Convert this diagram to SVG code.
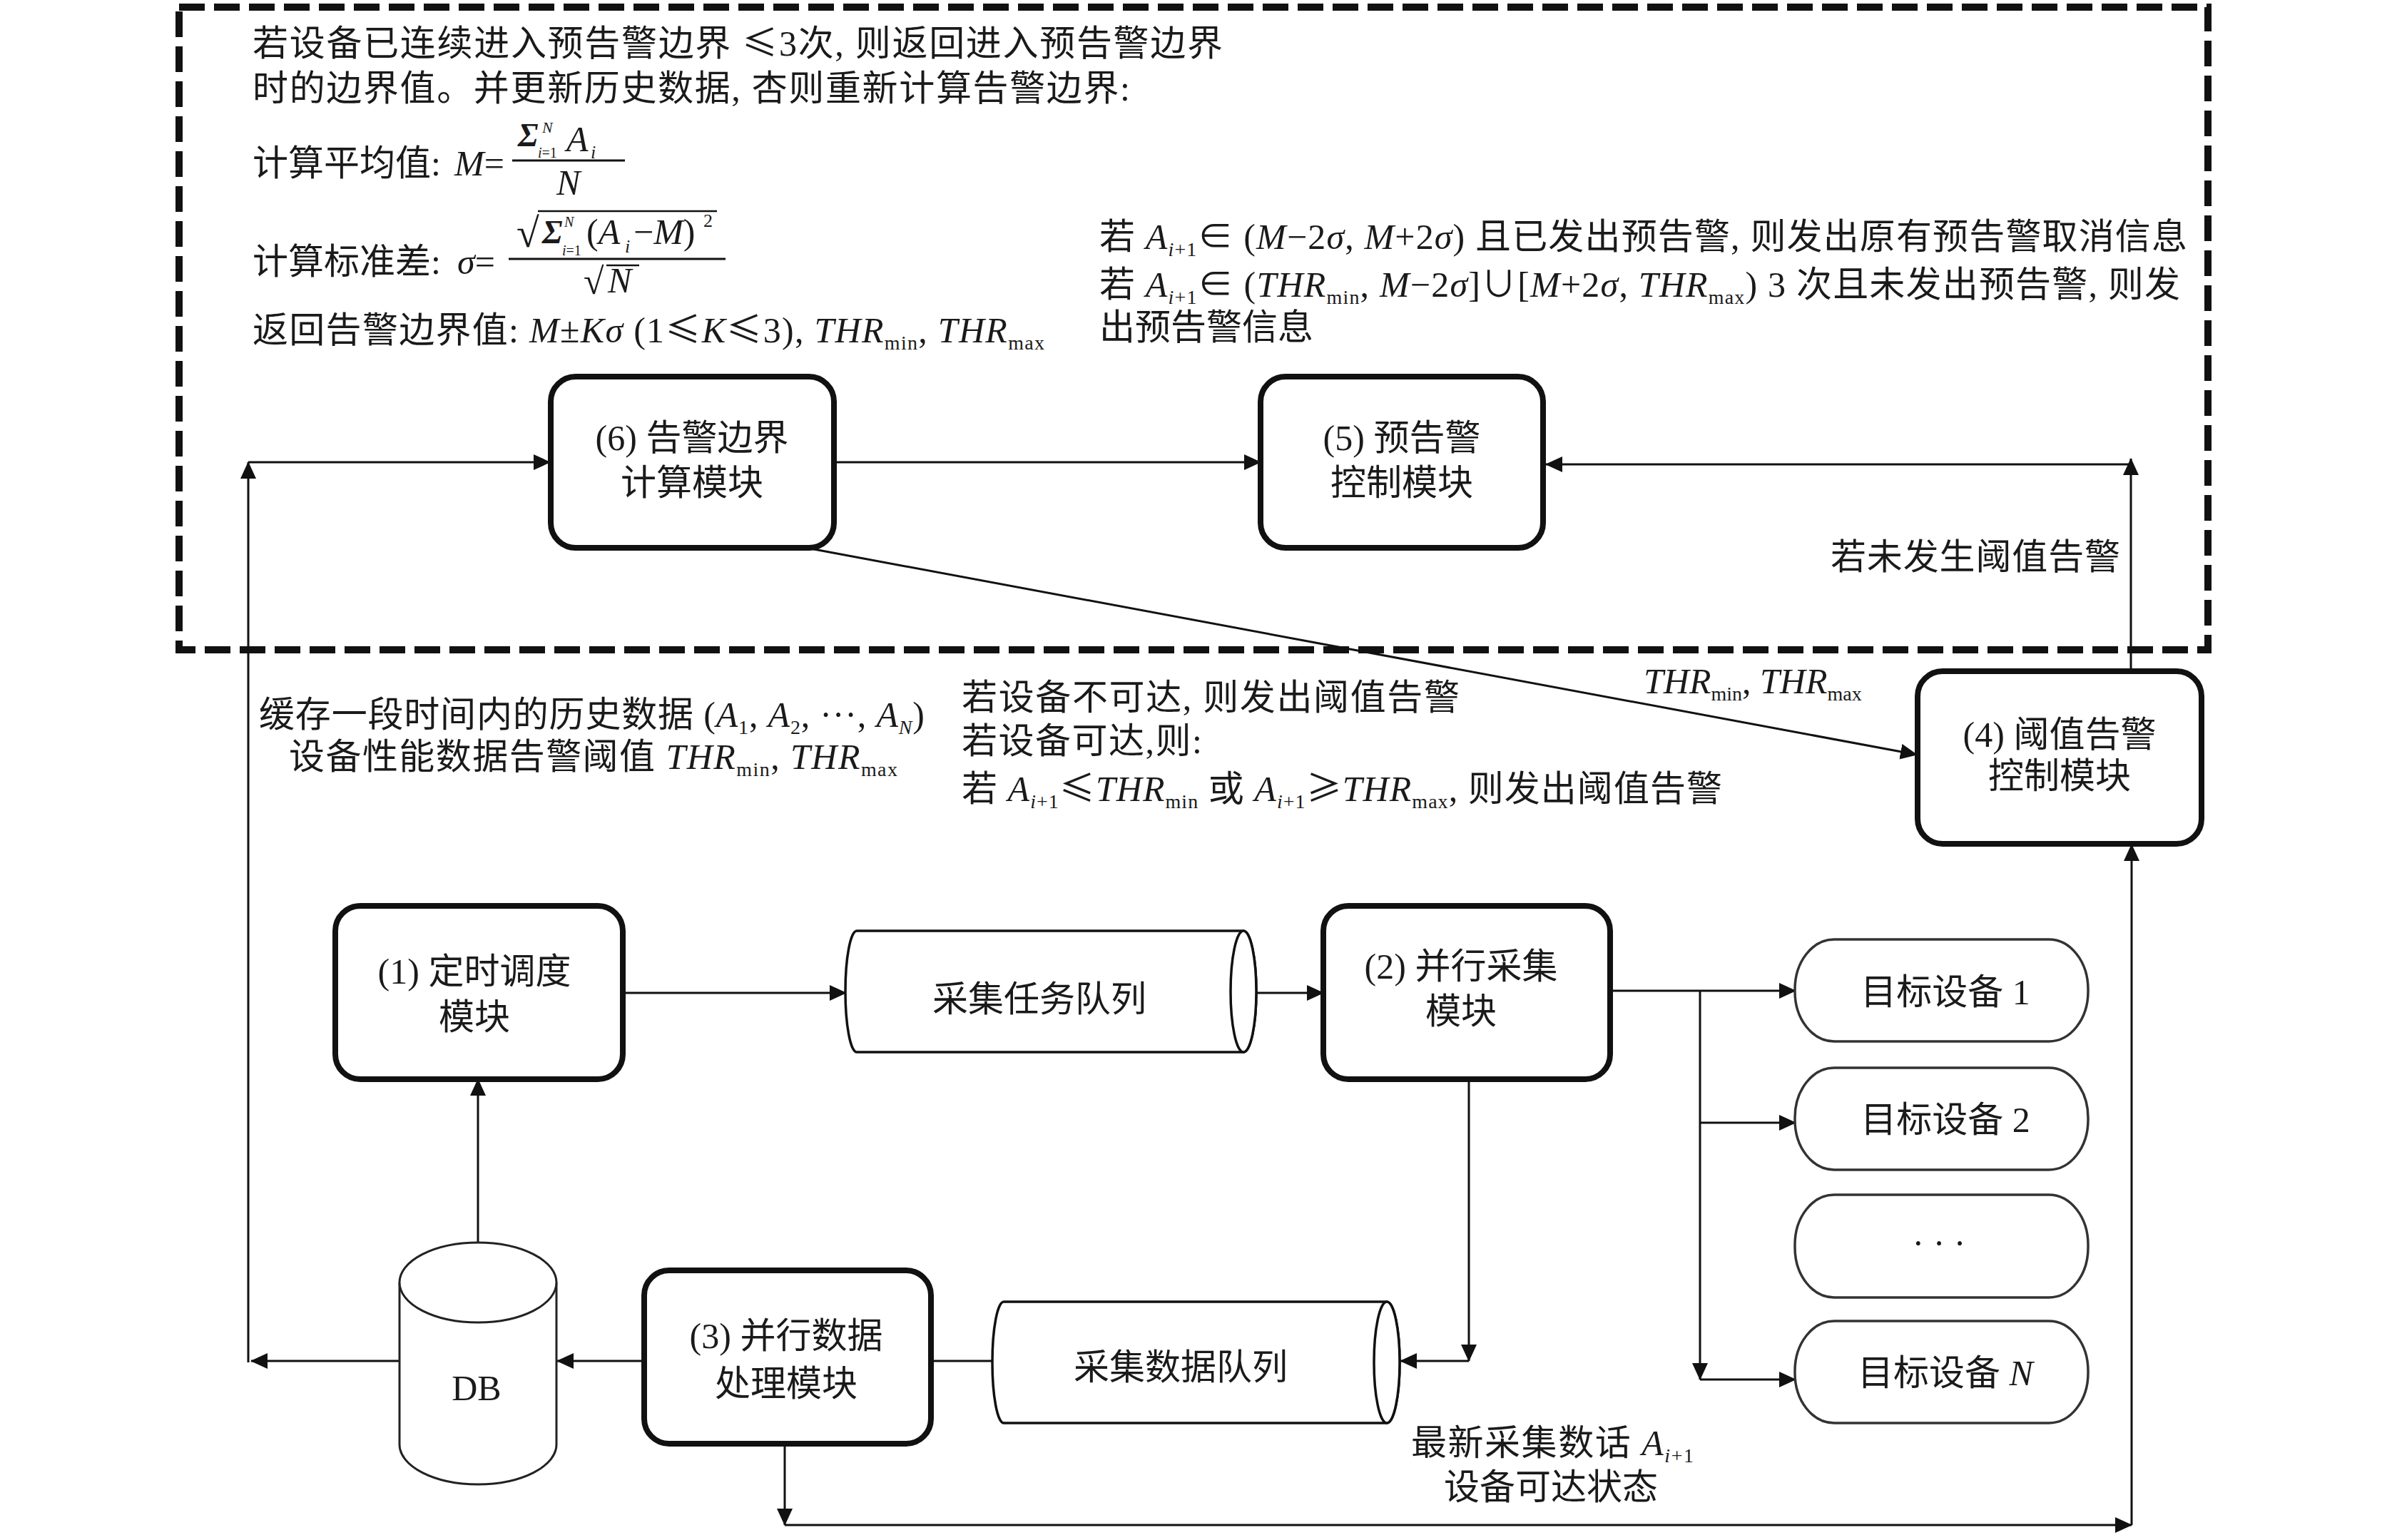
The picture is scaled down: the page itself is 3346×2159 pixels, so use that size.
<svg xmlns="http://www.w3.org/2000/svg" width="3346" height="2159" viewBox="0 0 3346 2159">
<defs>
<marker id="ah" markerUnits="userSpaceOnUse" markerWidth="24" markerHeight="22" refX="23" refY="11" orient="auto">
<path d="M0,0 L24,11 L0,22 z" fill="#111"/>
</marker>
<style>
.t{font-family:"Liberation Serif","Noto Sans CJK SC",serif;font-size:50px;fill:#1a1a1a}
.m{text-anchor:middle}
.i{font-style:italic}
.s{font-size:28px}
.cj{font-family:"Noto Sans CJK SC",sans-serif}
.node{fill:#fff;stroke:#111;stroke-width:8}
.tgt{fill:#fff;stroke:#333;stroke-width:3.5}
.q{fill:#fff;stroke:#111;stroke-width:3.5}
.c{fill:none;stroke:#111;stroke-width:3}
.ca{fill:none;stroke:#111;stroke-width:3;marker-end:url(#ah)}
.bar{stroke:#111;stroke-width:3}
</style>
</defs>
<rect width="3346" height="2159" fill="#fff"/>

<g id="boundary">
<rect x="251" y="10" width="2844" height="901" fill="none" stroke="#111" stroke-width="10" stroke-dasharray="36 13"/>
</g>

<g id="top-left-text">
<text class="t" x="354" y="78" textLength="1360" lengthAdjust="spacing">若设备已连续进入预告警边界 <tspan class="cj">≤</tspan>3次, 则返回进入预告警边界</text>
<text class="t" x="354" y="141" textLength="1230" lengthAdjust="spacing">时的边界值。并更新历史数据, 杏则重新计算告警边界:</text>
<text class="t" x="354" y="246">计算平均值:</text>
<text class="t" x="637" y="246"><tspan class="i">M</tspan>=</text>
<line class="bar" x1="718" y1="225" x2="876" y2="225"/>
<text class="t" x="726" y="205" style="font-size:46px;font-weight:bold;font-style:italic">Σ</text>
<text class="t i" x="760" y="186" style="font-size:22px">N</text>
<text class="t" x="754" y="221" style="font-size:20px"><tspan class="i">i</tspan>=1</text>
<text class="t i" x="794" y="212">A</text>
<text class="t i" x="828" y="222" style="font-size:26px">i</text>
<text class="t i" x="780" y="273">N</text>

<text class="t" x="354" y="384">计算标准差:</text>
<text class="t" x="641" y="384"><tspan class="i">σ</tspan>=</text>
<line class="bar" x1="713" y1="363" x2="1017" y2="363"/>
<text class="t" x="724" y="346" style="font-size:58px">√</text>
<line class="bar" x1="754" y1="296" x2="1005" y2="296" style="stroke-width:2.5"/>
<text class="t" x="760" y="341" style="font-size:46px;font-weight:bold;font-style:italic">Σ</text>
<text class="t i" x="791" y="318" style="font-size:20px">N</text>
<text class="t" x="788" y="358" style="font-size:20px"><tspan class="i">i</tspan>=1</text>
<text class="t" x="822" y="342">(<tspan class="i">A</tspan></text>
<text class="t i" x="876" y="354" style="font-size:26px">i</text>
<text class="t" x="888" y="342">−<tspan class="i">M</tspan>)</text>
<text class="t" x="986" y="318" style="font-size:26px">2</text>
<text class="t" x="818" y="412" style="font-size:52px">√</text>
<line class="bar" x1="850" y1="372" x2="896" y2="372" style="stroke-width:2.5"/>
<text class="t i" x="852" y="410">N</text>

<text class="t" x="354" y="480" textLength="1110" lengthAdjust="spacing">返回告警边界值: <tspan class="i">M</tspan>±<tspan class="i">Kσ</tspan> (1<tspan class="cj">≤</tspan><tspan class="i">K</tspan><tspan class="cj">≤</tspan>3), <tspan class="i">THR</tspan><tspan class="s" dy="10">min</tspan><tspan dy="-10">, </tspan><tspan class="i">THR</tspan><tspan class="s" dy="10">max</tspan></text>
</g>

<g id="top-right-text">
<text class="t" x="1541" y="349" textLength="1525" lengthAdjust="spacing">若 <tspan class="i">A</tspan><tspan class="s" dy="10"><tspan class="i">i</tspan>+1</tspan><tspan dy="-10">∈ (</tspan><tspan class="i">M</tspan>−2<tspan class="i">σ</tspan>, <tspan class="i">M</tspan>+2<tspan class="i">σ</tspan>) 且已发出预告警, 则发出原有预告警取消信息</text>
<text class="t" x="1541" y="416" textLength="1515" lengthAdjust="spacing">若 <tspan class="i">A</tspan><tspan class="s" dy="10"><tspan class="i">i</tspan>+1</tspan><tspan dy="-10">∈ (</tspan><tspan class="i">THR</tspan><tspan class="s" dy="10">min</tspan><tspan dy="-10">, </tspan><tspan class="i">M</tspan>−2<tspan class="i">σ</tspan>]∪[<tspan class="i">M</tspan>+2<tspan class="i">σ</tspan>, <tspan class="i">THR</tspan><tspan class="s" dy="10">max</tspan><tspan dy="-10">) 3 次且未发出预告警, 则发</tspan></text>
<text class="t" x="1541" y="476">出预告警信息</text>
</g>

<g id="connectors">
<path class="ca" d="M560,1908 H352"/>
<path class="ca" d="M348,1910 V648"/>
<path class="ca" d="M348,648 H771"/>
<path class="ca" d="M1169,648 H1767"/>
<path class="ca" d="M2987,941 V643"/>
<path class="ca" d="M2985,651 H2167"/>
<path class="ca" d="M1141,770 L2687,1058"/>
<path class="ca" d="M670,1742 V1513"/>
<path class="ca" d="M874,1392 H1186"/>
<path class="ca" d="M1761,1392 H1855"/>
<path class="ca" d="M2258,1389 H2517"/>
<path class="ca" d="M2383,1389 V1934"/>
<path class="ca" d="M2383,1574 H2517"/>
<path class="ca" d="M2383,1934 H2517"/>
<path class="ca" d="M2059,1513 V1908"/>
<path class="ca" d="M2059,1908 H1963"/>
<path class="c" d="M1391,1908 H1306"/>
<path class="ca" d="M903,1908 H781"/>
<path class="ca" d="M1100,2023 V2138"/>
<path class="ca" d="M1100,2138 H2988"/>
<path class="ca" d="M2988,2138 V1184"/>
</g>

<g id="node6">
<rect class="node" x="772" y="528" width="397" height="240" rx="35"/>
<text class="t m" x="970" y="631">(6) 告警边界</text>
<text class="t m" x="970" y="694">计算模块</text>
</g>
<g id="node5">
<rect class="node" x="1767" y="528" width="396" height="240" rx="35"/>
<text class="t m" x="1965" y="631">(5) 预告警</text>
<text class="t m" x="1965" y="694">控制模块</text>
</g>
<g id="node4">
<rect class="node" x="2688" y="941" width="398" height="242" rx="35"/>
<text class="t m" x="2887" y="1047">(4) 阈值告警</text>
<text class="t m" x="2887" y="1105">控制模块</text>
</g>
<g id="node1">
<rect class="node" x="470" y="1270" width="403" height="243" rx="35"/>
<text class="t m" x="665" y="1379">(1) 定时调度</text>
<text class="t m" x="665" y="1443">模块</text>
</g>
<g id="node2">
<rect class="node" x="1855" y="1270" width="402" height="243" rx="35"/>
<text class="t m" x="2048" y="1372">(2) 并行采集</text>
<text class="t m" x="2048" y="1435">模块</text>
</g>
<g id="node3">
<rect class="node" x="903" y="1781" width="402" height="243" rx="35"/>
<text class="t m" x="1102" y="1890">(3) 并行数据</text>
<text class="t m" x="1102" y="1957">处理模块</text>
</g>

<g id="queue1">
<path class="q" d="M1201,1305 H1743 A18,85 0 0 1 1743,1475 H1201 A16,85 0 0 1 1201,1305 z"/>
<ellipse class="q" cx="1743" cy="1390" rx="18" ry="85"/>
<text class="t m" x="1457" y="1418">采集任务队列</text>
</g>
<g id="queue2">
<path class="q" d="M1407,1825 H1944 A18,85 0 0 1 1944,1995 H1407 A16,85 0 0 1 1407,1825 z"/>
<ellipse class="q" cx="1944" cy="1910" rx="18" ry="85"/>
<text class="t m" x="1655" y="1934">采集数据队列</text>
</g>

<g id="db">
<path d="M560,1798 V2025 A110,56 0 0 0 780,2025 V1798" fill="#fff" stroke="#222" stroke-width="3"/>
<ellipse cx="670" cy="1798" rx="110" ry="56" fill="#fff" stroke="#222" stroke-width="3"/>
<text class="t m" x="668" y="1963">DB</text>
</g>

<g id="target1">
<rect class="tgt" x="2516" y="1317" width="411" height="143" rx="55" ry="70"/>
<text class="t m" x="2727" y="1408">目标设备 1</text>
</g>
<g id="target2">
<rect class="tgt" x="2516" y="1497" width="411" height="143" rx="55" ry="70"/>
<text class="t m" x="2727" y="1587">目标设备 2</text>
</g>
<g id="target-more">
<rect class="tgt" x="2516" y="1675" width="411" height="144" rx="55" ry="70"/>
<text class="t m" x="2718" y="1760">· · ·</text>
</g>
<g id="targetN">
<rect class="tgt" x="2516" y="1852" width="411" height="143" rx="55" ry="70"/>
<text class="t m" x="2727" y="1942">目标设备 <tspan class="i">N</tspan></text>
</g>

<g id="labels">
<text class="t" x="2566" y="798" textLength="406" lengthAdjust="spacing">若未发生阈值告警</text>
<text class="t" x="2304" y="972"><tspan class="i">THR</tspan><tspan class="s" dy="10">min</tspan><tspan dy="-10">, </tspan><tspan class="i">THR</tspan><tspan class="s" dy="10">max</tspan></text>
<text class="t" x="1348" y="995" textLength="698" lengthAdjust="spacing">若设备不可达, 则发出阈值告警</text>
<text class="t" x="1348" y="1056" textLength="337" lengthAdjust="spacing">若设备可达,则:</text>
<text class="t" x="1348" y="1123" textLength="1066" lengthAdjust="spacing">若 <tspan class="i">A</tspan><tspan class="s" dy="10"><tspan class="i">i</tspan>+1</tspan><tspan class="cj" dy="-10">≤</tspan><tspan class="i">THR</tspan><tspan class="s" dy="10">min</tspan><tspan dy="-10"> 或 </tspan><tspan class="i">A</tspan><tspan class="s" dy="10"><tspan class="i">i</tspan>+1</tspan><tspan class="cj" dy="-10">≥</tspan><tspan class="i">THR</tspan><tspan class="s" dy="10">max</tspan><tspan dy="-10">, 则发出阈值告警</tspan></text>
<text class="t" x="363" y="1019" textLength="933" lengthAdjust="spacing">缓存一段时间内的历史数据 (<tspan class="i">A</tspan><tspan class="s" dy="10">1</tspan><tspan dy="-10">, </tspan><tspan class="i">A</tspan><tspan class="s" dy="10">2</tspan><tspan dy="-10">, ···, </tspan><tspan class="i">A</tspan><tspan class="s i" dy="10">N</tspan><tspan dy="-10">)</tspan></text>
<text class="t" x="405" y="1078" textLength="853" lengthAdjust="spacing">设备性能数据告警阈值 <tspan class="i">THR</tspan><tspan class="s" dy="10">min</tspan><tspan dy="-10">, </tspan><tspan class="i">THR</tspan><tspan class="s" dy="10">max</tspan></text>
<text class="t" x="1978" y="2040" textLength="396" lengthAdjust="spacing">最新采集数话 <tspan class="i">A</tspan><tspan class="s" dy="10"><tspan class="i">i</tspan>+1</tspan></text>
<text class="t" x="2024" y="2102">设备可达状态</text>
</g>
</svg>
